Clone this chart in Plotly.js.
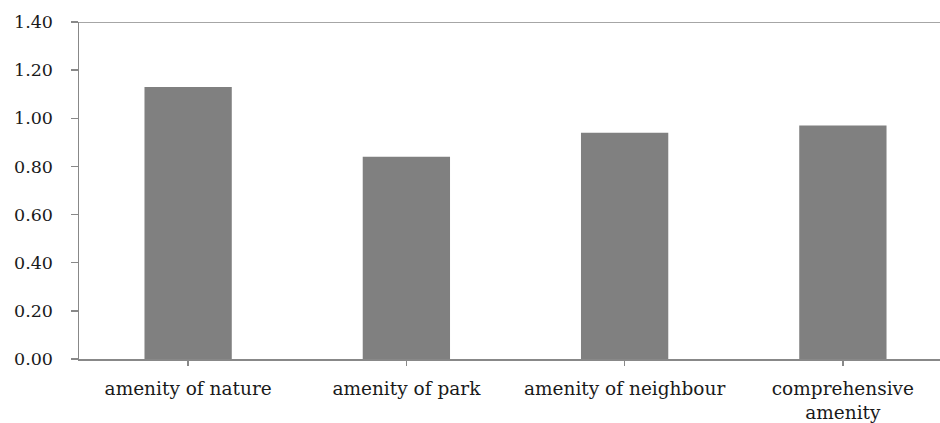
<!DOCTYPE html>
<html>
<head>
<meta charset="utf-8">
<script src="https://cdn.plot.ly/plotly-3.0.1.min.js"></script>
<style>html,body{margin:0;padding:0;background:#fff}#chart{width:940px;height:423px}</style>
</head>
<body>
<div id="chart"></div>
<script>
const categories = ["amenity of nature", "amenity of park", "amenity of neighbour", "comprehensive<br>amenity"];
const values = [1.13, 0.84, 0.94, 0.97];
const yTickVals = [0, 0.2, 0.4, 0.6, 0.8, 1.0, 1.2, 1.4];
const yTickText = ["0.00", "0.20", "0.40", "0.60", "0.80", "1.00", "1.20", "1.40"];

const axisColor = "#888888";
const fontFam = "DejaVu Serif, serif";

const trace = {
  type: "bar",
  x: [0, 1, 2, 3],
  y: values,
  width: 0.4,
  marker: {color: "#808080", line: {width: 0}},
  hoverinfo: "skip"
};

const layout = {
  width: 940, height: 423,
  margin: {l: 79, r: 0, t: 22, b: 64, pad: 0},
  paper_bgcolor: "#fff", plot_bgcolor: "#fff",
  showlegend: false,
  font: {family: fontFam, size: 18, color: "#1a1a1a"},
  xaxis: {
    range: [-0.5, 3.445],
    tickmode: "array",
    tickvals: [0, 1, 2, 3],
    ticktext: categories,
    tickson: "boundaries",
    ticks: "outside", ticklen: 5, tickwidth: 1.5, tickcolor: axisColor,
    showline: true, linecolor: axisColor, linewidth: 1.5,
    showgrid: false, zeroline: false,
    tickfont: {family: fontFam, size: 18.5, color: "#1a1a1a"},
    ticklabelstandoff: 7,
    fixedrange: true
  },
  yaxis: {
    range: [0, 1.4],
    tickmode: "array",
    tickvals: yTickVals,
    ticktext: yTickText,
    ticks: "outside", ticklen: 7, tickwidth: 1.5, tickcolor: axisColor,
    showline: true, linecolor: axisColor, linewidth: 1.5,
    showgrid: false, zeroline: false,
    tickfont: {family: fontFam, size: 17.5, color: "#1a1a1a"},
    ticklabelstandoff: 14,
    fixedrange: true
  },
  shapes: [{
    type: "line", xref: "paper", yref: "y",
    x0: 0, x1: 1, y0: 1.4, y1: 1.4,
    line: {color: axisColor, width: 1.5}
  }]
};

Plotly.newPlot("chart", [trace], layout, {displayModeBar: false, staticPlot: true});
</script>
</body>
</html>
